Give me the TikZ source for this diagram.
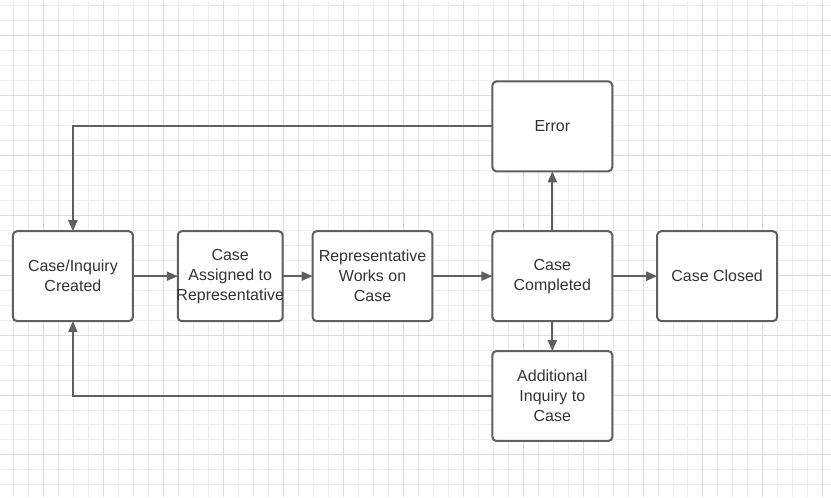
\documentclass[tikz,border=0pt]{standalone}
\usepackage{fontspec}
\setmainfont{Liberation Sans}
\usepackage{xcolor}
\usetikzlibrary{positioning,arrows.meta}

\definecolor{linegray}{HTML}{5F5F5F}
\definecolor{textgray}{HTML}{333333}
\definecolor{gridminor}{HTML}{EDEDED}
\definecolor{gridmajor}{HTML}{DADADA}

\begin{document}
\begin{tikzpicture}[x=1pt, y=-1pt, node distance=45pt,
    box/.style={draw=linegray, line width=2pt, rounded corners=4pt, fill=white,
        minimum width=120pt, minimum height=90pt, inner sep=0pt, outer sep=0pt,
        align=center, text=textgray, font=\fontsize{16}{20}\selectfont},
    flow/.style={draw=linegray, line width=2pt, -{Triangle[length=11pt,width=9pt]}}]

    % background grid
    \fill[white] (0,0) rectangle (831,497);
    \foreach \x in {13.3,28.3,...,831} \draw[gridminor, line width=1pt] (\x,0) -- (\x,497);
    \foreach \y in {5,20,...,497} \draw[gridminor, line width=1pt] (0,\y) -- (831,\y);
    \foreach \x in {43.3,103.3,...,831} \draw[gridmajor, line width=1pt] (\x,0) -- (\x,497);
    \foreach \y in {35,95,...,497} \draw[gridmajor, line width=1pt] (0,\y) -- (831,\y);

    % main flow
    \node [box] (created) at (72.5,276) {Case/Inquiry\\Created};
    \node [box, minimum width=105pt, right=45pt of created] (assigned) {Case\\Assigned to\\\makebox[80pt]{Representative}};
    \node [box, right=30pt of assigned] (works) {Representative\\Works on\\Case};
    \node [box, right=60pt of works] (completed) {Case\\Completed};
    \node [box, right=45pt of completed] (closed) {Case Closed};
    \node [box, above=60pt of completed] (error) {Error};
    \node [box, below=30pt of completed] (additional) {Additional\\Inquiry to\\Case};

    \draw [flow] (created) -- (assigned);
    \draw [flow] (assigned) -- (works);
    \draw [flow] (works) -- (completed);
    \draw [flow] (completed) -- (closed);
    \draw [flow] (completed) -- (error);
    \draw [flow] (completed) -- (additional);

    % loops back to the start
    \draw [flow] (error.west) -| (created.north);
    \draw [flow] (additional.west) -| (created.south);
\end{tikzpicture}
\end{document}
